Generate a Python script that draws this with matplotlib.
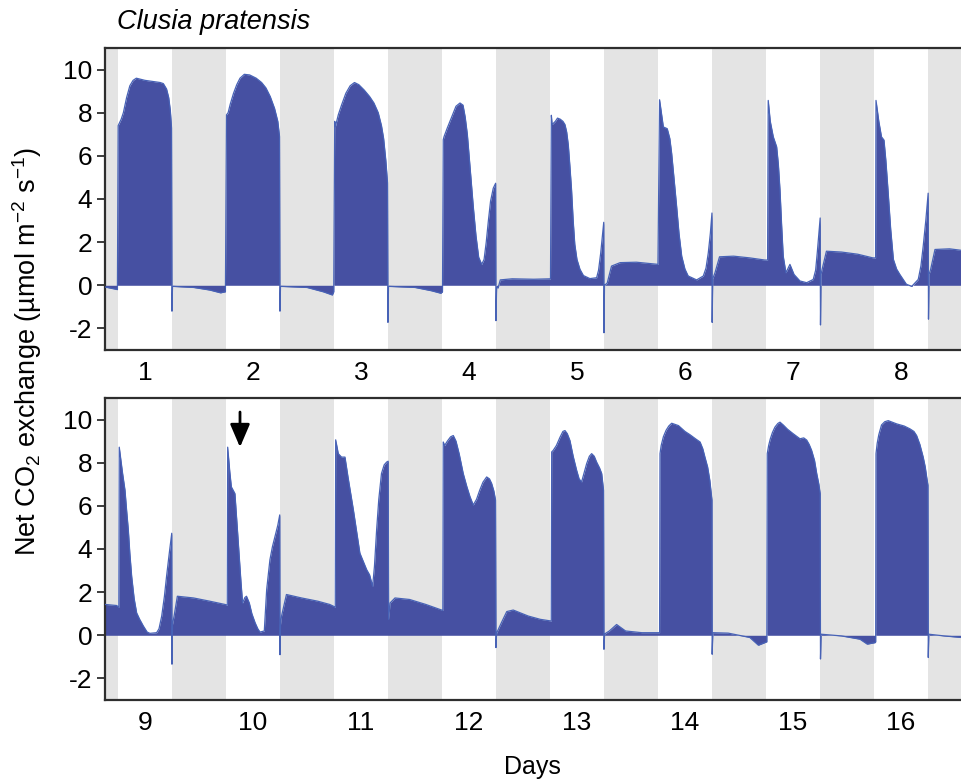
import matplotlib
matplotlib.use('Agg')
import matplotlib.pyplot as plt

plt.rcParams['font.family'] = ['Liberation Sans', 'DejaVu Sans']
plt.rcParams['mathtext.fontset'] = 'custom'
plt.rcParams['mathtext.rm'] = 'Liberation Sans'
plt.rcParams['mathtext.it'] = 'Liberation Sans:italic'
plt.rcParams['axes.unicode_minus'] = False

# time in days (light period of day n runs n-0.25 .. n+0.25), net CO2 flux
top_t = [0.63, 0.70, 0.745,
         0.752, 0.78, 0.80, 0.83, 0.86, 0.89, 0.92, 1.0, 1.14, 1.17, 1.2, 1.22, 1.235, 1.246, 1.250, 1.255,
         1.45, 1.6, 1.70, 1.745,
         1.755, 1.77, 1.79, 1.82, 1.85, 1.88, 1.92, 1.97, 2.03, 2.08, 2.12, 2.16, 2.2, 2.23, 2.246, 2.250, 2.255,
         2.5, 2.65, 2.735, 2.748,
         2.757, 2.763, 2.79, 2.82, 2.86, 2.9, 2.94, 2.98, 3.03, 3.08, 3.12, 3.16, 3.19, 3.21, 3.23, 3.246, 3.250, 3.255,
         3.5, 3.65, 3.74, 3.755,
         3.762, 3.77, 3.8, 3.84, 3.88, 3.917, 3.945, 3.965, 3.985, 4.01, 4.04, 4.065, 4.09, 4.118, 4.14, 4.16,
         4.18, 4.2, 4.225, 4.247, 4.250, 4.256,
         4.27, 4.29, 4.4, 4.6, 4.755,
         4.763, 4.77, 4.8, 4.82, 4.845, 4.87, 4.889, 4.905, 4.92, 4.935, 4.95, 4.965, 4.98, 5.0, 5.028, 5.06,
         5.12, 5.182, 5.2, 5.22, 5.248, 5.250, 5.255,
         5.28, 5.32, 5.4, 5.55, 5.75,
         5.765, 5.8, 5.836, 5.86, 5.877, 5.9, 5.923, 5.945, 5.97, 6.0, 6.03, 6.108, 6.17, 6.195, 6.216, 6.235,
         6.250, 6.252, 6.257,
         6.278, 6.32, 6.45, 6.6, 6.74, 6.765,
         6.771, 6.79, 6.818, 6.849, 6.865, 6.88, 6.895, 6.91, 6.935, 6.972, 7.01, 7.065, 7.127, 7.188, 7.21,
         7.225, 7.24, 7.252, 7.255, 7.26,
         7.27, 7.31, 7.45, 7.6, 7.74, 7.765,
         7.769, 7.795, 7.82, 7.843, 7.86, 7.88, 7.905, 7.93, 7.96, 7.99, 8.05, 8.1, 8.16, 8.185, 8.206, 8.23,
         8.252, 8.255, 8.26,
         8.275, 8.315, 8.45, 8.56]
top_v = [-0.08, -0.15, -0.2,
         7.4, 7.7, 8.0, 8.7, 9.25, 9.5, 9.6, 9.5, 9.4, 9.35, 9.1, 8.7, 8.1, 7.3, -1.2, -0.05,
         -0.1, -0.22, -0.35, -0.3,
         7.9, 8.0, 8.4, 8.9, 9.3, 9.6, 9.78, 9.75, 9.6, 9.4, 9.15, 8.75, 8.2, 7.6, 6.9, -1.2, -0.05,
         -0.1, -0.3, -0.45, -0.3,
         7.6, 7.35, 7.9, 8.35, 8.9, 9.25, 9.4, 9.3, 9.05, 8.75, 8.45, 8.0, 7.4, 6.8, 5.8, 4.75, -1.72, -0.05,
         -0.1, -0.25, -0.37, -0.3,
         6.75, 6.9, 7.3, 7.8, 8.3, 8.45, 8.35, 7.8, 7.0, 5.5, 3.65, 2.3, 1.3, 0.97, 1.2, 2.0,
         3.0, 3.9, 4.5, 4.73, -1.64, -0.1,
         -0.12, 0.25, 0.3, 0.28, 0.3,
         7.88, 7.45, 7.6, 7.75, 7.7, 7.6, 7.45, 7.1, 6.5, 5.5, 4.42, 3.0, 1.9, 1.2, 0.74, 0.45,
         0.31, 0.35, 0.7, 1.5, 2.92, -2.2, 0.0,
         0.1, 0.89, 1.05, 1.07, 0.97,
         8.6, 7.34, 7.26, 6.8, 6.11, 4.9, 3.65, 2.4, 1.35, 0.75, 0.43, 0.25, 0.43, 0.8, 1.5, 2.4,
         3.35, -1.72, 0.3,
         0.58, 1.32, 1.35, 1.27, 1.17, 1.17,
         8.57, 7.6, 6.88, 6.42, 5.6, 4.42, 2.8, 1.35, 0.58, 0.97, 0.5, 0.2, 0.12, 0.27, 0.7,
         1.5, 2.4, 3.12, -1.84, 0.5,
         0.74, 1.58, 1.54, 1.44, 1.27, 1.27,
         8.57, 7.6, 6.88, 6.73, 5.8, 4.42, 2.6, 1.2, 0.75, 0.5, 0.05, -0.05, 0.27, 0.9, 1.81, 3.0,
         4.27, -1.57, 0.5,
         0.74, 1.66, 1.69, 1.62]

bottom_t = [8.63, 8.738, 8.758,
            8.762, 8.78, 8.793, 8.815, 8.83, 8.846, 8.86, 8.877, 8.9, 8.923, 8.95, 8.985, 9.02, 9.046, 9.108,
            9.13, 9.155, 9.18, 9.2, 9.225, 9.248, 9.250, 9.255,
            9.27, 9.3, 9.45, 9.6, 9.74, 9.762,
            9.766, 9.785, 9.8, 9.833, 9.855, 9.873, 9.89, 9.904, 9.925, 9.94, 9.966, 9.99, 10.02, 10.045, 10.065,
            10.105, 10.127, 10.157, 10.18, 10.204, 10.23, 10.248, 10.250, 10.255,
            10.265, 10.31, 10.45, 10.6, 10.71, 10.744, 10.762,
            10.766, 10.79, 10.82, 10.852, 10.88, 10.93, 10.99, 11.053, 11.08, 11.108, 11.125, 11.145, 11.165,
            11.19, 11.215, 11.238, 11.252, 11.256, 11.27,
            11.315, 11.45, 11.6, 11.73, 11.758,
            11.762, 11.775, 11.8, 11.83, 11.855, 11.88, 11.91, 11.947, 11.98, 12.01, 12.04, 12.07, 12.1, 12.13,
            12.164, 12.19, 12.21, 12.23, 12.246, 12.250, 12.256,
            12.3, 12.35, 12.41, 12.55, 12.66, 12.762,
            12.766, 12.78, 12.81, 12.843, 12.87, 12.889, 12.91, 12.935, 12.965, 12.997, 13.02, 13.043, 13.065,
            13.09, 13.115, 13.136, 13.16, 13.182, 13.21, 13.229, 13.246, 13.250, 13.256,
            13.3, 13.367, 13.45, 13.6, 13.765,
            13.769, 13.78, 13.8, 13.825, 13.85, 13.877, 13.94, 14.0, 14.046, 14.1, 14.14, 14.165, 14.185, 14.21,
            14.23, 14.25, 14.252, 14.258,
            14.4, 14.55, 14.6, 14.68, 14.74, 14.758,
            14.762, 14.775, 14.79, 14.81, 14.833, 14.86, 14.88, 14.91, 14.95, 15.003, 15.04, 15.065, 15.1,
            15.127, 15.15, 15.173, 15.2, 15.22, 15.24, 15.252, 15.255, 15.26,
            15.45, 15.62, 15.688, 15.76, 15.766,
            15.769, 15.78, 15.795, 15.82, 15.85, 15.882, 15.96, 16.03, 16.083, 16.12, 16.145, 16.175, 16.206,
            16.225, 16.238, 16.25, 16.253, 16.258,
            16.4, 16.556]
bottom_v = [1.43, 1.38, 1.3,
            8.72, 8.0, 7.5, 6.73, 5.8, 4.88, 3.8, 2.73, 1.7, 1.04, 0.75, 0.43, 0.15, 0.09, 0.12,
            0.3, 0.89, 1.8, 2.73, 3.8, 4.73, -1.34, 0.5,
            0.9, 1.81, 1.73, 1.58, 1.43, 1.4,
            8.72, 7.6, 6.88, 6.57, 5.0, 3.65, 2.4, 1.5, 1.75, 1.81, 1.5, 1.0, 0.58, 0.3, 0.15,
            0.2, 2.12, 3.5, 4.1, 4.58, 5.1, 5.58, -0.9, 0.5,
            0.9, 1.89, 1.73, 1.58, 1.43, 1.35, 1.3,
            9.06, 8.42, 8.26, 8.26, 7.34, 5.81, 3.81, 3.04, 2.8, 2.27, 3.2, 4.88, 6.3,
            7.5, 7.9, 8.03, 8.07, 0.74, 1.5,
            1.73, 1.66, 1.43, 1.2, 1.15,
            8.96, 8.8, 9.0, 9.2, 9.26, 9.0, 8.4, 7.5, 6.9, 6.42, 6.04, 6.3, 6.73, 7.1,
            7.34, 7.25, 7.04, 6.7, 6.27, -0.57, 0.1,
            0.58, 1.1, 1.17, 0.89, 0.74, 0.66,
            8.5, 8.57, 8.8, 9.18, 9.45, 9.49, 9.35, 9.03, 8.3, 7.65, 7.25, 7.11, 7.5,
            7.96, 8.3, 8.42, 8.3, 8.03, 7.75, 7.5, 6.73, -0.65, 0.06,
            0.2, 0.5, 0.2, 0.12, 0.12,
            8.42, 8.8, 9.2, 9.5, 9.7, 9.83, 9.72, 9.45, 9.3, 9.1, 8.96, 8.65, 8.26, 7.8,
            7.19, 6.27, -0.88, 0.12,
            0.1, -0.05, -0.1, -0.46, -0.34, -0.3,
            8.42, 8.8, 9.1, 9.4, 9.65, 9.82, 9.88, 9.75, 9.55, 9.34, 9.2, 9.11, 9.15,
            9.05, 8.85, 8.57, 8.1, 7.5, 7.0, 6.57, -1.1, 0.05,
            -0.03, -0.18, -0.41, -0.34, -0.3,
            8.42, 8.9, 9.3, 9.75, 9.9, 9.95, 9.8, 9.7, 9.57, 9.45, 9.26, 8.85, 8.26,
            7.8, 7.34, 6.96, -1.03, 0.05,
            -0.03, -0.1]

top_days = [1, 2, 3, 4, 5, 6, 7, 8]
bottom_days = [9, 10, 11, 12, 13, 14, 15, 16]
y_ticks = [-2, 0, 2, 4, 6, 8, 10]

fill_col = '#4650a2'
edge_col = '#4762b6'
night_col = '#e4e4e4'
frame_col = '#2e2e2e'

fig = plt.figure(figsize=(9.61, 7.79), dpi=100)
ax_top = fig.add_axes([105 / 961, 429 / 779, 856 / 961, 302 / 779])
ax_bot = fig.add_axes([105 / 961, 79 / 779, 856 / 961, 302 / 779])


def draw_panel(ax, t, v, days):
    first = days[0]
    ax.set_xlim(first - 0.37, first + 7.556)
    ax.set_ylim(-3, 11)
    # dark periods shaded grey
    for d in range(first - 1, first + 8):
        ax.axvspan(d + 0.25, d + 0.75, color=night_col, lw=0, zorder=0)
    ax.fill_between(t, 0, v, color=fill_col, lw=0, zorder=2)
    ax.plot(t, v, color=edge_col, lw=0.9, zorder=3)
    ax.set_xticks(days)
    ax.set_xticklabels([str(d) for d in days])
    ax.set_yticks(y_ticks)
    ax.set_yticklabels([str(y) for y in y_ticks])
    ax.tick_params(axis='x', length=0, pad=8, labelsize=19)
    ax.tick_params(axis='y', length=6, width=1.3, pad=3, labelsize=19,
                   color=frame_col)
    for side in ['left', 'top', 'bottom']:
        ax.spines[side].set_color(frame_col)
        ax.spines[side].set_linewidth(1.6)
    ax.spines['right'].set_visible(False)


draw_panel(ax_top, top_t, top_v, top_days)
draw_panel(ax_bot, bottom_t, bottom_v, bottom_days)

# marker for the day-10 event
ax_bot.annotate('', xy=(9.88, 8.72), xytext=(9.88, 10.35),
                arrowprops=dict(arrowstyle='-|>,head_length=0.7,head_width=0.3',
                                color='black', lw=2, shrinkA=0, shrinkB=0,
                                mutation_scale=20), zorder=5)

fig.text(117 / 961, 1 - 22 / 779, 'Clusia pratensis', style='italic',
         fontsize=19.5, ha='left', va='center')
fig.text(27 / 961, 1 - 351 / 779,
         'Net CO$_2$ exchange (µmol m$^{-2}$ s$^{-1}$)',
         rotation=90, fontsize=19.5, ha='center', va='center')
fig.text(532 / 961, 1 - 767 / 779, 'Days', fontsize=18, ha='center', va='center')

fig.savefig('out.png', dpi=100)
